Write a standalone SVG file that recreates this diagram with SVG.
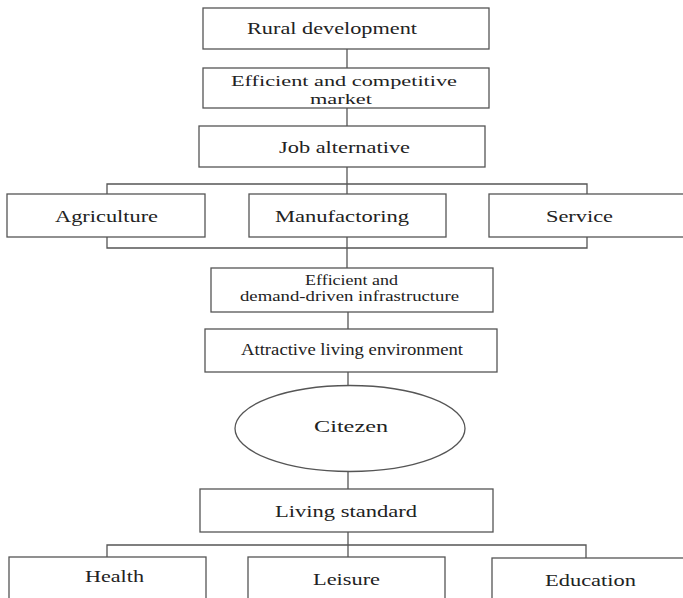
<svg xmlns="http://www.w3.org/2000/svg" width="683" height="598" viewBox="0 0 683 598">
<style>
.box{fill:#fff;stroke:#555;stroke-width:1.3}
.ln{fill:none;stroke:#555;stroke-width:1.3}
text{font-family:"Liberation Serif","Times New Roman",serif;font-size:17px;fill:#222}
.s{font-size:16px}
.m{font-size:15px}
.i{font-size:14px}
</style>
<rect width="683" height="598" fill="#fff"/>
<g id="connectors">
<line class="ln" x1="347" y1="49" x2="347" y2="68"/>
<line class="ln" x1="347" y1="108" x2="347" y2="126"/>
<line class="ln" x1="347" y1="167" x2="347" y2="194"/>
<polyline class="ln" points="107,194 107,184 587,184 587,194"/>
<polyline class="ln" points="107,237 107,248 587,248 587,237"/>
<line class="ln" x1="347" y1="237" x2="347" y2="268"/>
<line class="ln" x1="348" y1="312" x2="348" y2="329"/>
<line class="ln" x1="348" y1="372" x2="348" y2="386"/>
<line class="ln" x1="348" y1="471" x2="348" y2="489"/>
<line class="ln" x1="348" y1="532" x2="348" y2="557"/>
<polyline class="ln" points="107,557 107,545 586,545 586,558"/>
</g>
<g id="rural"><rect class="box" x="203" y="8" width="286" height="41"/><text x="247" y="34" textLength="170" lengthAdjust="spacingAndGlyphs">Rural development</text></g>
<g id="market"><rect class="box" x="203" y="68" width="286" height="40"/><text class="m" x="231" y="86" textLength="226" lengthAdjust="spacingAndGlyphs">Efficient and competitive</text><text class="m" x="310" y="103.5" textLength="62" lengthAdjust="spacingAndGlyphs">market</text></g>
<g id="job"><rect class="box" x="199" y="126" width="286" height="41"/><text x="279" y="152.5" textLength="131" lengthAdjust="spacingAndGlyphs">Job alternative</text></g>
<g id="agriculture"><rect class="box" x="7" y="194" width="198" height="43"/><text x="55" y="222" textLength="103" lengthAdjust="spacingAndGlyphs">Agriculture</text></g>
<g id="manufactoring"><rect class="box" x="249" y="194" width="197" height="43"/><text x="275" y="222" textLength="134" lengthAdjust="spacingAndGlyphs">Manufactoring</text></g>
<g id="service"><rect class="box" x="489" y="194" width="200" height="43"/><text x="546" y="222" textLength="67" lengthAdjust="spacingAndGlyphs">Service</text></g>
<g id="infrastructure"><rect class="box" x="211" y="268" width="282" height="44"/><text class="i" x="305" y="284.5" textLength="93" lengthAdjust="spacingAndGlyphs">Efficient and</text><text class="i" x="240" y="300.5" textLength="219" lengthAdjust="spacingAndGlyphs">demand-driven infrastructure</text></g>
<g id="environment"><rect class="box" x="205" y="329" width="292" height="43"/><text class="s" x="241" y="355" textLength="222" lengthAdjust="spacingAndGlyphs">Attractive living environment</text></g>
<g id="citezen"><ellipse class="box" cx="350" cy="428.5" rx="115" ry="43"/><text x="314" y="432" textLength="74" lengthAdjust="spacingAndGlyphs">Citezen</text></g>
<g id="living"><rect class="box" x="200" y="489" width="293" height="43"/><text x="275" y="516.5" textLength="142" lengthAdjust="spacingAndGlyphs">Living standard</text></g>
<g id="health"><rect class="box" x="9" y="557" width="197" height="50"/><text x="85" y="582" textLength="59" lengthAdjust="spacingAndGlyphs">Health</text></g>
<g id="leisure"><rect class="box" x="248" y="557" width="197" height="50"/><text x="313" y="585" textLength="67" lengthAdjust="spacingAndGlyphs">Leisure</text></g>
<g id="education"><rect class="box" x="492" y="558" width="200" height="50"/><text x="545" y="586" textLength="91" lengthAdjust="spacingAndGlyphs">Education</text></g>
</svg>
